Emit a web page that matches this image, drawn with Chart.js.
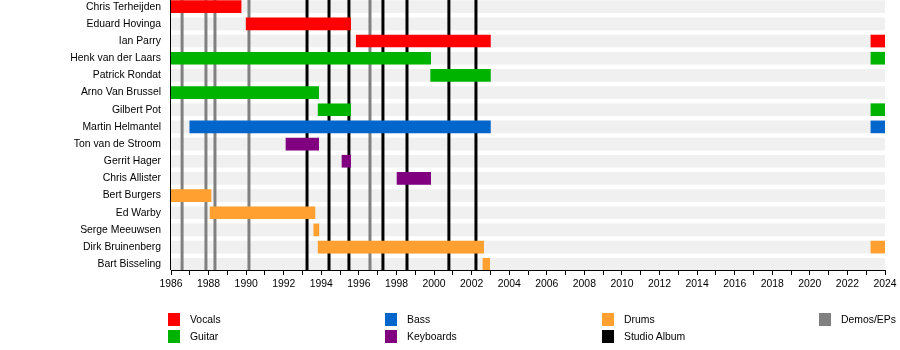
<!DOCTYPE html>
<html>
<head>
<meta charset="utf-8">
<script src="https://cdn.jsdelivr.net/npm/chart.js@4"></script>
<style>
  body { margin: 0; background: #fff; font-family: "Liberation Sans", Arial, sans-serif; }
  #wrap { position: relative; width: 900px; height: 350px; }
  #legend { position: absolute; left: 168px; top: 313px; display: grid; grid-template-rows: 17px 17px;
            grid-auto-flow: column; grid-auto-columns: 217px; font-size: 10.4px; color: #000; }
  .item { display: flex; align-items: center; height: 13px; }
  .sw { width: 12px; height: 13px; margin-right: 10px; }
</style>
</head>
<body>
<div id="wrap">
  <canvas id="c" width="900" height="350"></canvas>
  <div id="legend"></div>
</div>
<script>
const members = ['Chris Terheijden', 'Eduard Hovinga', 'Ian Parry', 'Henk van der Laars', 'Patrick Rondat',
  'Arno Van Brussel', 'Gilbert Pot', 'Martin Helmantel', 'Ton van de Stroom', 'Gerrit Hager',
  'Chris Allister', 'Bert Burgers', 'Ed Warby', 'Serge Meeuwsen', 'Dirk Bruinenberg', 'Bart Bisseling']

// [member, from, to]
const vocals = [['Chris Terheijden', 1986, 1989.73], ['Eduard Hovinga', 1990.0, 1995.56],
  ['Ian Parry', 1995.86, 2003.0], ['Ian Parry', 2023.25, 2024]]
const guitar = [['Henk van der Laars', 1986, 1999.82], ['Henk van der Laars', 2023.25, 2024],
  ['Patrick Rondat', 1999.82, 2003.0], ['Arno Van Brussel', 1986, 1993.86],
  ['Gilbert Pot', 1993.83, 1995.56], ['Gilbert Pot', 2023.25, 2024]]
const bass = [['Martin Helmantel', 1987.0, 2003.0], ['Martin Helmantel', 2023.25, 2024]]
const keyboards = [['Ton van de Stroom', 1992.12, 1993.86], ['Gerrit Hager', 1995.1, 1995.56],
  ['Chris Allister', 1998.03, 1999.82]]
const drums = [['Bert Burgers', 1986, 1988.13], ['Ed Warby', 1988.08, 1993.66],
  ['Serge Meeuwsen', 1993.6, 1993.87], ['Dirk Bruinenberg', 1993.83, 2002.64],
  ['Dirk Bruinenberg', 2023.25, 2024], ['Bart Bisseling', 2002.6, 2002.96]]

const studioAlbums = [1993.24, 1994.41, 1995.47, 1997.28, 1998.56, 2000.79, 2002.23]
const demos = [1986.59, 1987.86, 1988.34, 1990.15, 1996.59]

const startYear = 1986
const endYear = 2024

const colors = {Vocals: '#ff0000', Guitar: '#00b300', Bass: '#0066cc', Keyboards: '#800080',
  Drums: '#ffa030', 'Studio Album': '#000000', 'Demos/EPs': '#808080'}

const toPoints = list => list.map(([m, a, b]) => ({y: members.indexOf(m), x: [a, b]}))

const datasets = [{
  label: 'band',
  data: members.map((m, i) => ({y: i, x: [startYear, endYear]})),
  backgroundColor: '#f0f0f0',
  order: 1
}]
const roles = [['Vocals', vocals], ['Guitar', guitar], ['Bass', bass], ['Keyboards', keyboards], ['Drums', drums]]
roles.forEach(([name, list]) => {
  datasets.push({label: name, data: toPoints(list), backgroundColor: colors[name], order: 0})
})

// album / demo lines, drawn right after the grey row bands so the bars sit on top
const eventLines = {
  id: 'eventLines',
  afterDatasetDraw(chart, args) {
    if (args.index !== 0) return
    const {ctx, chartArea: {top, bottom}, scales: {x}} = chart
    ctx.save()
    ctx.lineWidth = 3
    const draw = (list, col) => {
      ctx.strokeStyle = col
      list.forEach(v => {
        const px = x.getPixelForValue(v)
        ctx.beginPath()
        ctx.moveTo(px, top)
        ctx.lineTo(px, bottom)
        ctx.stroke()
      })
    }
    draw(demos, colors['Demos/EPs'])
    draw(studioAlbums, colors['Studio Album'])
    ctx.restore()
  }
}

// member names on the left + left axis line
const names = {
  id: 'names',
  afterDraw(chart) {
    const {ctx, chartArea: {left, top, bottom}, scales: {y}} = chart
    ctx.save()
    ctx.strokeStyle = '#000'
    ctx.lineWidth = 1
    ctx.beginPath()
    ctx.moveTo(left - 0.5, top)
    ctx.lineTo(left - 0.5, bottom)
    ctx.stroke()
    ctx.font = '10.4px "Liberation Sans", Arial, sans-serif'
    ctx.fillStyle = '#000'
    ctx.textAlign = 'right'
    ctx.textBaseline = 'middle'
    members.forEach((m, i) => ctx.fillText(m, 161, y.getPixelForValue(i)))
    ctx.restore()
  }
}

new Chart(document.getElementById('c'), {
  type: 'bar',
  data: {datasets},
  options: {
    indexAxis: 'y',
    responsive: false,
    animation: false,
    layout: {padding: {top: 0, right: 15, bottom: 0, left: 0}},
    datasets: {bar: {grouped: false, barThickness: 12, borderWidth: 0}},
    plugins: {legend: {display: false}, tooltip: {enabled: false}},
    scales: {
      x: {
        type: 'linear', min: startYear, max: endYear,
        afterBuildTicks: s => {
          const t = []
          for (let y = startYear; y <= endYear; y++) t.push({value: y})
          s.ticks = t
        },
        afterFit: s => { s.height = 80 },
        ticks: {
          autoSkip: false, maxRotation: 0, color: '#000', padding: 3,
          font: {family: 'Liberation Sans', size: 10.4},
          callback: v => (v % 2 === 0 ? String(v) : '')
        },
        grid: {drawOnChartArea: false, drawTicks: true, tickLength: 5, color: '#000'},
        border: {display: true, color: '#000', width: 1}
      },
      y: {
        type: 'linear', reverse: true, min: -0.39, max: 15.335,
        offset: false, bounds: 'data', grace: 0,
        afterFit: s => { s.width = 171 },
        ticks: {display: false},
        grid: {display: false, offset: false},
        border: {display: false}
      }
    }
  },
  plugins: [eventLines, names]
})

const legendItems = ['Vocals', 'Guitar', 'Bass', 'Keyboards', 'Drums', 'Studio Album', 'Demos/EPs']
const legend = document.getElementById('legend')
legendItems.forEach(name => {
  const d = document.createElement('div')
  d.className = 'item'
  d.innerHTML = '<span class="sw" style="background:' + colors[name] + '"></span><span>' + name + '</span>'
  legend.appendChild(d)
})
</script>
</body>
</html>
